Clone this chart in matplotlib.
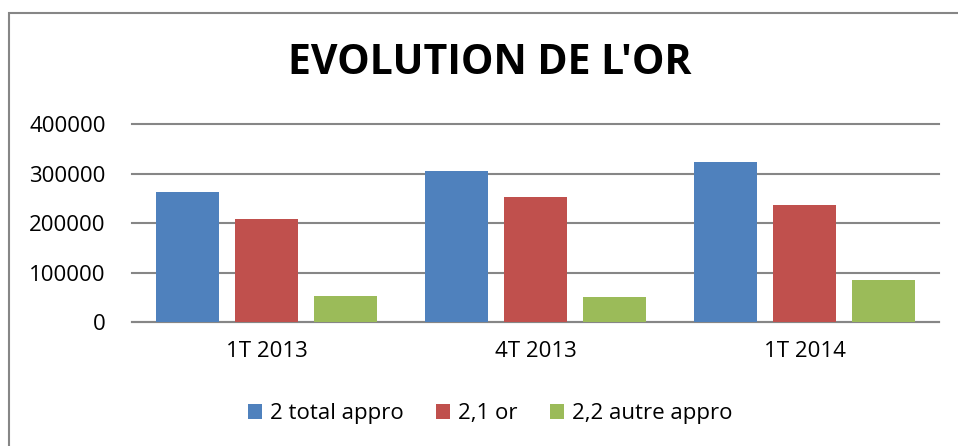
import numpy as np
import matplotlib.pyplot as plt
from matplotlib.patches import Rectangle

# data
categories = ["1T 2013", "4T 2013", "1T 2014"]
series_names = ["2 total appro", "2,1 or", "2,2 autre appro"]
total_appro = [263000, 305000, 324000]
or_values = [209000, 253000, 237000]
autre_appro = [53000, 51000, 85000]
y_ticks = [0, 100000, 200000, 300000, 400000]

colors = ["#4F81BD", "#C0504D", "#9BBB59"]
grid_col = "#868686"

plt.rcParams['font.family'] = ['Open Sans', 'DejaVu Sans']

fig = plt.figure(figsize=(9.58, 4.46), dpi=100)
ax = fig.add_axes([132 / 958, 1 - 322 / 446, (939 - 132) / 958, (322 - 124.5) / 446])

x = np.arange(len(categories))
width = 0.234
offset = 0.294
for i, vals in enumerate([total_appro, or_values, autre_appro]):
    ax.bar(x + (i - 1) * offset, vals, width, color=colors[i], label=series_names[i], zorder=3)

ax.set_xlim(-0.5, len(categories) - 0.5)
ax.set_ylim(0, 400000)
ax.set_yticks(y_ticks)
ax.set_yticklabels([str(v) for v in y_ticks])
ax.set_xticks(x)
ax.set_xticklabels(categories)
ax.yaxis.grid(True, color=grid_col, linewidth=1.5, zorder=0)
for gl in ax.get_ygridlines():
    gl.set_clip_on(False)
ax.tick_params(axis='y', length=0, pad=19, labelsize=16)
ax.tick_params(axis='x', length=0, pad=14, labelsize=16)
for s in ['top', 'right', 'left']:
    ax.spines[s].set_visible(False)
ax.spines['bottom'].set_color(grid_col)
ax.spines['bottom'].set_linewidth(1.5)

fig.text(490 / 958, 1 - 64 / 446, "EVOLUTION DE L'OR", ha='center', va='center',
         fontsize=29.5, fontweight='bold')

fig.legend(loc='center', bbox_to_anchor=(490 / 958, 1 - 414 / 446), ncol=3,
           frameon=False, fontsize=16, handlelength=0.65, handleheight=0.65,
           handletextpad=0.35, columnspacing=1.45)

# outer chart border (right/bottom edges fall outside the picture)
fig.patches.append(Rectangle((9 / 958, -0.1), 1.2, 1 - 12.5 / 446 + 0.1,
                             transform=fig.transFigure, fill=False,
                             edgecolor=grid_col, linewidth=1.5))

fig.savefig("out.png", dpi=100)
